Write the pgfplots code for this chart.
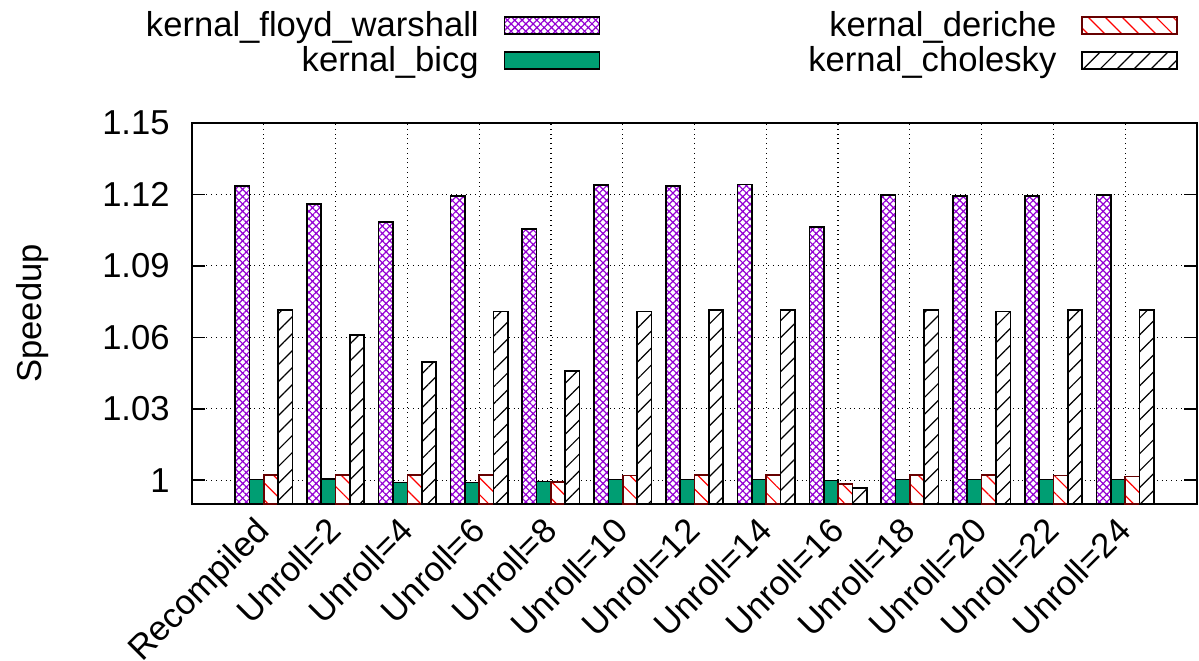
\documentclass[border=0pt]{standalone}
\usepackage{fontspec}
\setmainfont{Liberation Sans}
\usepackage{pgfplots}
\pgfplotsset{compat=1.18}
\usetikzlibrary{patterns.meta}

\definecolor{fwviolet}{HTML}{9400D3}
\definecolor{bicggreen}{HTML}{009E73}
\definecolor{derred}{HTML}{FF0000}

\begin{document}
\fontsize{17.3}{20}\selectfont
\begin{tikzpicture}
% page = 1199x660 px at 0.5pt per px, axis box from (192,123) to (1197,504)
\useasboundingbox (-96pt,-78pt) rectangle (503.5pt,252pt);
\begin{axis}[
    scale only axis,
    width=502.5pt, height=190.5pt,
    at={(0pt,0pt)}, anchor=south west,
    xmin=-1, xmax=13,
    ymin=0.99, ymax=1.15,
    ybar=0pt,
    bar width=0.2,
    xtick={0,1,2,3,4,5,6,7,8,9,10,11,12},
    xticklabels={Recompiled,Unroll=2,Unroll=4,Unroll=6,Unroll=8,Unroll=10,Unroll=12,Unroll=14,Unroll=16,Unroll=18,Unroll=20,Unroll=22,Unroll=24},
    ytick={1,1.03,1.06,1.09,1.12,1.15},
    yticklabels={1,1.03,1.06,1.09,1.12,1.15},
    xticklabel style={inner sep=0pt, xshift=4pt, yshift=-8pt, rotate=45, anchor=base east},
    yticklabel style={inner sep=0pt, xshift=-11pt},
    ylabel={Speedup},
    ylabel style={at={(axis description cs:-0.1582,0.5)}, anchor=center},
    xmajorgrids, ymajorgrids,
    major grid style={dotted, black, line width=0.6pt},
    axis line style={line width=1pt},
    tick style={black, line width=0.8pt},
    xtick style={draw=none},
    major tick length=6.5pt,
    legend columns=2,
    transpose legend,
    legend plot pos=right,
    legend cell align=right,
    legend style={at={(axis description cs:0.9811,1.2955)}, anchor=north east,
        draw=none, fill=none, inner sep=0pt, outer sep=0pt, row sep=0pt,
        nodes={inner xsep=0pt, inner ysep=0.75pt, text height=12.4pt, text depth=3.6pt},
        /tikz/every odd column/.append style={column sep=12.5pt},
        /tikz/every even column/.append style={column sep=104pt}},
    legend image code/.code={\draw[#1] (0pt,-3.05pt) rectangle (47.5pt,5.45pt);},
]

% kernal_floyd_warshall
\addplot[draw=black, line width=0.8pt, fill=white,
    postaction={pattern={Hatch[angle=45, distance=2.6pt, line width=0.6pt]}, pattern color=fwviolet}]
coordinates {
    (0,1.1236) (1,1.1159) (2,1.1084) (3,1.1193) (4,1.1055) (5,1.1239) (6,1.1236)
    (7,1.1242) (8,1.1063) (9,1.1197) (10,1.1193) (11,1.1193) (12,1.1197)
};
\addlegendentry{kernal\_floyd\_warshall}

% kernal_bicg
\addplot[draw=black, line width=0.8pt, fill=bicggreen]
coordinates {
    (0,1.0003) (1,1.0004) (2,0.9990) (3,0.9991) (4,0.9994) (5,1.0003) (6,1.0003)
    (7,1.0003) (8,0.9999) (9,1.0003) (10,1.0003) (11,1.0003) (12,1.0003)
};
\addlegendentry{kernal\_bicg}

% kernal_deriche
\addplot[draw=black!60!red, line width=0.8pt, fill=white,
    postaction={pattern={Lines[angle=-45, distance=6pt, line width=0.6pt]}, pattern color=derred}]
coordinates {
    (0,1.0021) (1,1.0022) (2,1.0021) (3,1.0021) (4,0.9993) (5,1.0020) (6,1.0022)
    (7,1.0021) (8,0.9983) (9,1.0021) (10,1.0021) (11,1.0020) (12,1.0016)
};
\addlegendentry{kernal\_deriche}

% kernal_cholesky
\addplot[draw=black, line width=0.8pt, fill=white,
    postaction={pattern={Lines[angle=45, distance=6pt, line width=0.6pt]}, pattern color=black}]
coordinates {
    (0,1.0714) (1,1.0609) (2,1.0496) (3,1.0709) (4,1.0458) (5,1.0709) (6,1.0714)
    (7,1.0714) (8,0.9968) (9,1.0714) (10,1.0709) (11,1.0714) (12,1.0714)
};
\addlegendentry{kernal\_cholesky}

\end{axis}
\end{tikzpicture}
\end{document}
